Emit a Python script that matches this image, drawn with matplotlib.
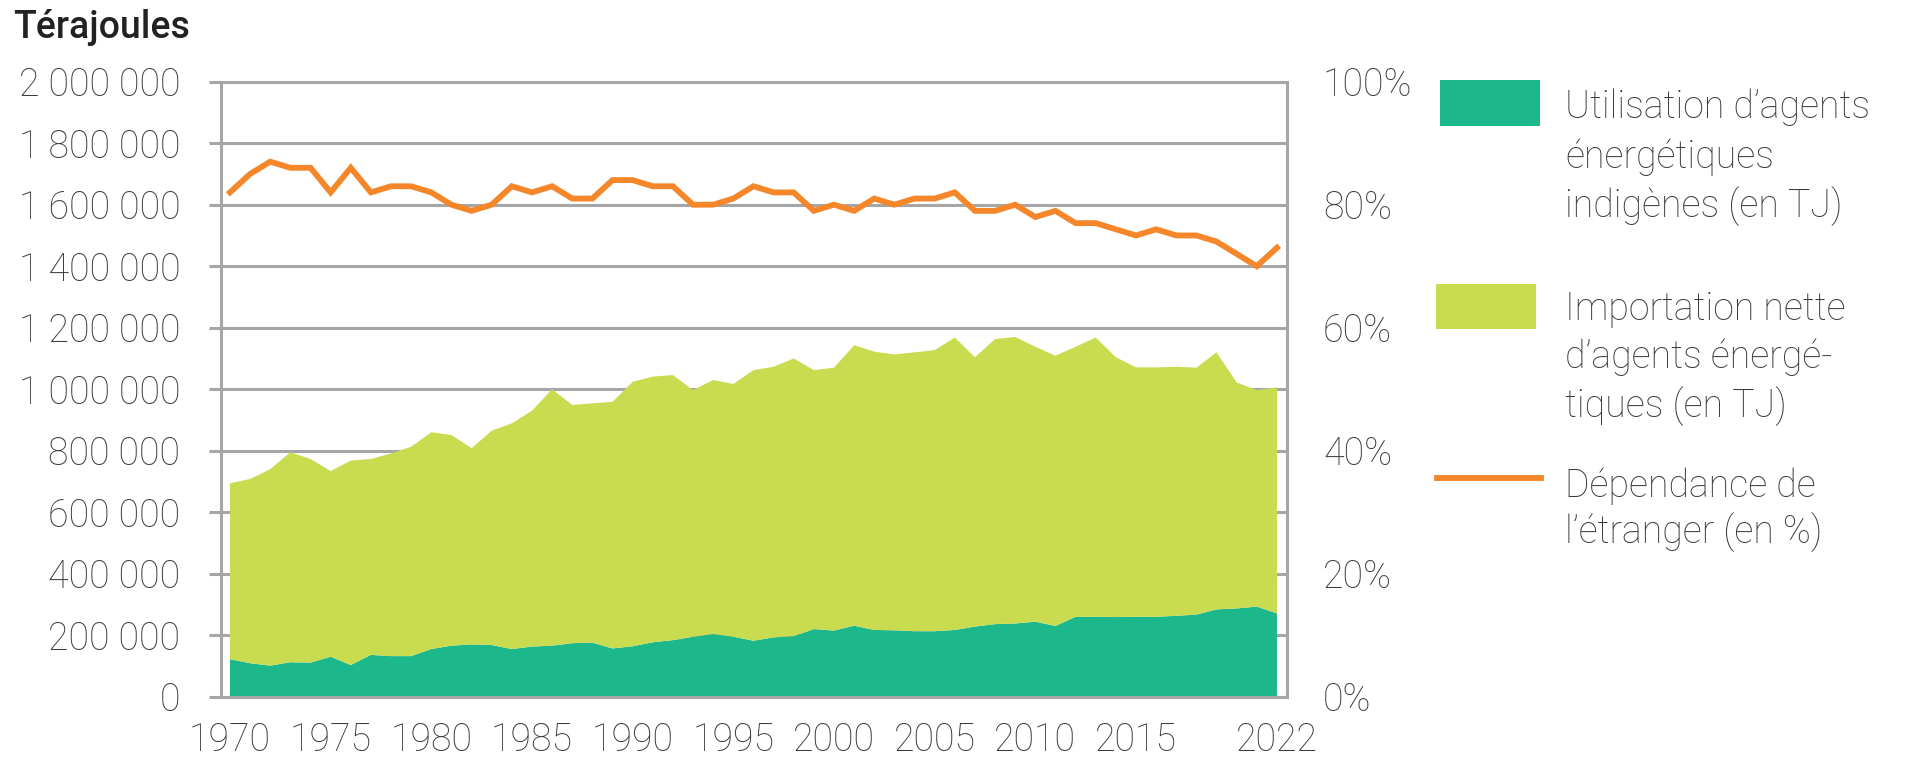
import matplotlib
matplotlib.use("Agg")
import matplotlib.pyplot as plt
from matplotlib.patches import Rectangle
from matplotlib.lines import Line2D
from matplotlib.ticker import FuncFormatter

years = list(range(1970, 2023))

# Utilisation d'agents énergétiques indigènes (TJ)
domestic = [122, 109, 101, 112, 111, 130, 103, 136, 132, 132,
            155, 166, 170, 168, 155, 163, 166, 174, 176, 157,
            164, 177, 184, 195, 204, 195, 182, 193, 197, 220,
            215, 231, 217, 216, 213, 213, 217, 228, 236, 238,
            244, 230, 260, 260, 259, 260, 260, 263, 267, 284,
            287, 293, 271]
domestic = [v * 1000 for v in domestic]

# Importation nette d'agents énergétiques (TJ)
imports = [572, 599, 639, 683, 662, 604, 665, 637, 659, 681,
           705, 685, 638, 697, 734, 767, 834, 775, 778, 802,
           860, 864, 862, 802, 826, 822, 880, 880, 903, 842,
           855, 912, 905, 897, 907, 914, 951, 876, 927, 932,
           894, 879, 878, 908, 845, 811, 811, 810, 803, 836,
           735, 704, 735]
imports = [v * 1000 for v in imports]

# Dépendance de l'étranger (%)
dependence = [82, 85, 87, 86, 86, 82, 86, 82, 83, 83,
              82, 80, 79, 80, 83, 82, 83, 81, 81, 84,
              84, 83, 83, 80, 80, 81, 83, 82, 82, 79,
              80, 79, 81, 80, 81, 81, 82, 79, 79, 80,
              78, 79, 77, 77, 76, 75, 76, 75, 75, 74,
              72, 70, 73]

xticks = [1970, 1975, 1980, 1985, 1990, 1995, 2000, 2005, 2010, 2015, 2022]
yticks_left = list(range(0, 2000001, 200000))
yticks_right = list(range(0, 101, 20))

labels = [["Utilisation d\u2019agents", "\u00e9nerg\u00e9tiques", "indig\u00e8nes (en TJ)"],
          ["Importation nette", "d\u2019agents \u00e9nerg\u00e9-", "tiques (en TJ)"],
          ["D\u00e9pendance de", "l\u2019\u00e9tranger (en %)"]]
label_baselines = [[118, 168, 217], [320, 368, 417], [497, 543]]

GREEN = "#1DB78C"
LIME = "#C9DC50"
ORANGE = "#F5862A"
GRID = "#A6A6A9"
TXT = "#3C3C3C"
FS = 27

plt.rcParams['font.family'] = ['Roboto', 'DejaVu Sans']

W, H = 1905, 757
fig = plt.figure(figsize=(W / 100, H / 100), dpi=100)
ax = fig.add_axes([220.7 / W, 1 - 696.7 / H, (1287 - 220.7) / W, (696.7 - 81.7) / H])

ax.stackplot(years, domestic, imports, colors=[GREEN, LIME], linewidth=0, zorder=1)
ax.set_xlim(1969.54, 2022.5)
ax.set_ylim(0, 2000000)
ax.set_axisbelow(True)
ax.set_yticks(yticks_left)
ax.yaxis.set_major_formatter(FuncFormatter(lambda v, p: f"{int(v):,}".replace(",", " ")))
ax.set_xticks(xticks)
ax.grid(axis='y', color=GRID, linewidth=2.2)
ax.tick_params(axis='y', length=9, width=2.2, color=GRID, pad=20, labelsize=FS, labelcolor=TXT)
ax.tick_params(axis='x', length=0, pad=18, labelsize=FS, labelcolor=TXT)
for lab in ax.get_xticklabels() + ax.get_yticklabels():
    lab.set_fontweight('light')
for s in ['left', 'right', 'top', 'bottom']:
    ax.spines[s].set_color(GRID)
    ax.spines[s].set_linewidth(2.2)

ax2 = ax.twinx()
ax2.plot(years, dependence, color=ORANGE, linewidth=4.2, solid_joinstyle='miter', zorder=3)
ax2.set_ylim(0, 100)
ax2.set_yticks(yticks_right)
ax2.yaxis.set_major_formatter(FuncFormatter(lambda v, p: f"{int(v)}%"))
ax2.tick_params(axis='y', length=0, pad=26, labelsize=FS, labelcolor=TXT)
for lab in ax2.get_yticklabels():
    lab.set_fontweight('light')
for s in ['left', 'right', 'top', 'bottom']:
    ax2.spines[s].set_visible(False)


def fx(x):
    return x / W


def fy(y):
    return 1 - y / H


fig.text(fx(13), fy(38), "T\u00e9rajoules", fontsize=27, fontweight='medium',
         color="#222222", ha='left', va='baseline')

# legend
fig.add_artist(Rectangle((fx(1440), fy(126)), 100 / W, 46 / H, transform=fig.transFigure,
                         facecolor=GREEN, edgecolor='none'))
fig.add_artist(Rectangle((fx(1436), fy(329)), 100 / W, 45 / H, transform=fig.transFigure,
                         facecolor=LIME, edgecolor='none'))
fig.add_artist(Line2D([fx(1437), fx(1541)], [fy(478), fy(478)], transform=fig.transFigure,
                      color=ORANGE, linewidth=4.2))
for lines, bases in zip(labels, label_baselines):
    for line, b in zip(lines, bases):
        fig.text(fx(1565), fy(b), line, fontsize=FS, fontweight='light', color=TXT,
                 ha='left', va='baseline')

fig.savefig("out.png", dpi=100)
